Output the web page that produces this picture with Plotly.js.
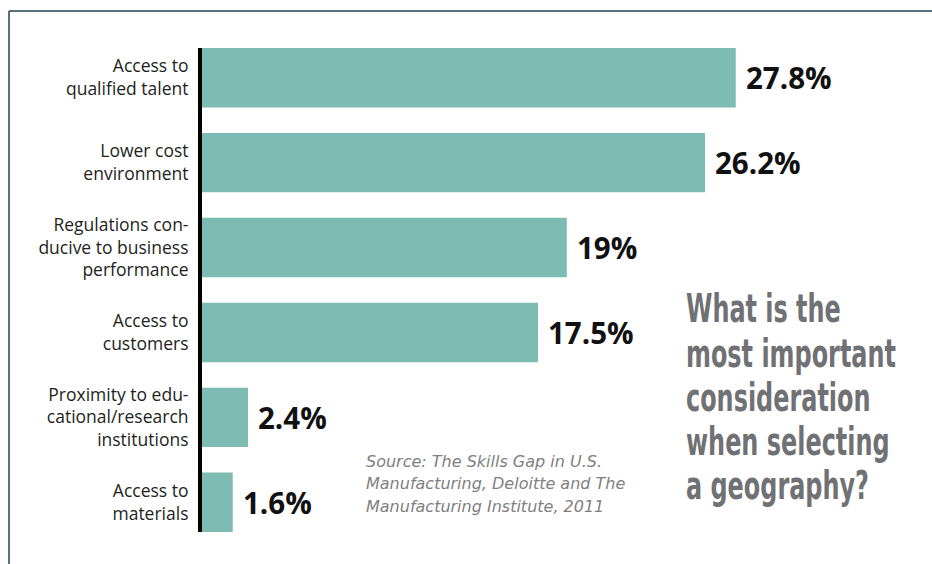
<!DOCTYPE html>
<html><head><meta charset="utf-8">
<script src="https://cdn.plot.ly/plotly-3.0.1.min.js"></script>
<style>html,body{margin:0;padding:0;background:#fff}</style>
</head><body><div id="chart" style="width:932px;height:564px"></div>
<script>
const categories = ["Access to<br>qualified talent","Lower cost<br>environment","Regulations con-<br>ducive to business<br>performance","Access to<br>customers","Proximity to edu-<br>cational/research<br>institutions","Access to<br>materials"];
const values = [27.8, 26.2, 19, 17.5, 2.4, 1.6];
const valueLabels = ["27.8%","26.2%","19%","17.5%","2.4%","1.6%"];
const titleLines = ["What is the","most important","consideration","when selecting","a geography?"];
const sourceLines = ["Source: The Skills Gap in U.S.","Manufacturing, Deloitte and The","Manufacturing Institute, 2011"];

const W = 932, H = 564, L = 202, R = 154, T = 48, B = 32;
const pw = W - L - R, ph = H - T - B;
const xp = px => (px - L) / pw;
const yp = py => (H - B - py) / ph;

const annotations = [];
values.forEach((v, i) => {
  annotations.push({x: v, y: categories[i], xref: 'x', yref: 'y', text: valueLabels[i],
    showarrow: false, xanchor: 'left', yanchor: 'middle', xshift: 8,
    font: {family: 'Open Sans', size: 29.5, color: '#111', weight: 700}});
});
const titleY = [309, 353, 397, 441, 485];
titleLines.forEach((t, i) => {
  annotations.push({x: xp(684), y: yp(titleY[i]), xref: 'paper', yref: 'paper', text: t,
    showarrow: false, xanchor: 'left', yanchor: 'middle', align: 'left',
    font: {family: 'DejaVu Sans Condensed, DejaVu Sans', size: 39, color: '#707174', weight: 700}});
});
const srcY = [461, 483.5, 506];
sourceLines.forEach((t, i) => {
  annotations.push({x: xp(364), y: yp(srcY[i]), xref: 'paper', yref: 'paper', text: t,
    showarrow: false, xanchor: 'left', yanchor: 'middle', align: 'left',
    font: {family: 'DejaVu Sans', size: 16, color: '#808080', style: 'italic'}});
});

const data = [{
  type: 'bar', orientation: 'h', x: values, y: categories,
  marker: {color: '#7ebcb3'}, hoverinfo: 'none'
}];

const layout = {
  width: W, height: H,
  margin: {l: L, r: R, t: T, b: B, pad: 0},
  paper_bgcolor: '#fff', plot_bgcolor: '#fff',
  showlegend: false, bargap: 0.3,
  xaxis: {range: [0, 30], visible: false, fixedrange: true},
  yaxis: {type: 'category', range: [5.35, -0.35], showline: true, linecolor: '#000', linewidth: 4,
    ticks: '', showgrid: false, zeroline: false, ticklabelstandoff: 6,
    tickfont: {family: 'Open Sans', size: 17.5, color: '#231f20'}},
  annotations: annotations,
  shapes: [
    {type: 'line', xref: 'paper', yref: 'paper', x0: xp(9), x1: xp(940), y0: yp(11), y1: yp(11), line: {color: '#1b4252', width: 1.5}},
    {type: 'line', xref: 'paper', yref: 'paper', x0: xp(9), x1: xp(9), y0: yp(11), y1: yp(570), line: {color: '#1b4252', width: 1.5}}
  ]
};

Plotly.newPlot('chart', data, layout, {staticPlot: true, displayModeBar: false}).then(() => {
  const texts = Array.from(document.querySelectorAll('.annotation-text'));
  const titleEls = texts.filter(el => titleLines.includes(el.textContent));
  const ref = titleEls.find(el => el.textContent === 'most important');
  const w = ref ? ref.getBBox().width : 300;
  const s = 210 / w;
  titleEls.forEach(el => {
    el.style.transformBox = 'fill-box';
    el.style.transformOrigin = '0 50%';
    el.style.transform = 'scaleX(' + s + ')';
  });
});
</script>
</body></html>
